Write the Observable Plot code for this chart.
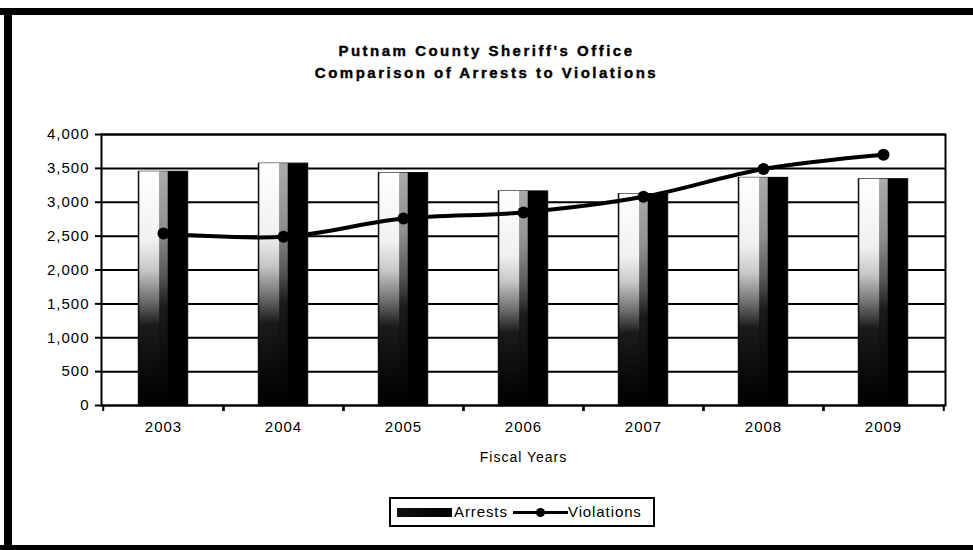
<!DOCTYPE html>
<html>
<head>
<meta charset="utf-8">
<script src="https://cdn.jsdelivr.net/npm/d3@7"></script>
<script src="https://cdn.jsdelivr.net/npm/@observablehq/plot@0.6"></script>
<style>
  html, body { margin: 0; padding: 0; background: #fff; }
  #wrap { position: relative; width: 973px; height: 550px; overflow: hidden; background: #fff; font-family: "Liberation Sans", Arial, sans-serif; }
  #chart { position: absolute; left: 0; top: 0; }
  .bd { position: absolute; background: #000; }
  #title { position: absolute; left: 0; width: 973px; top: 40px; text-align: center; font-weight: bold; font-size: 15px; letter-spacing: 2.5px; line-height: 22px; color: #000; -webkit-text-stroke: 0.4px #000; }
  #legend { position: absolute; left: 389px; top: 497px; width: 262px; height: 26px; border: 2px solid #000; box-sizing: content-box; font-size: 15px; letter-spacing: 0.9px; }
  #legend .sw1 { position: absolute; left: 6px; top: 9px; width: 55px; height: 9px; background: linear-gradient(90deg, #111 0%, #000 100%); }
  #legend .t1 { position: absolute; left: 63px; top: 4px; }
  #legend .sw2 { position: absolute; left: 122px; top: 12px; width: 55px; height: 3px; background: #000; }
  #legend .dot { position: absolute; left: 145px; top: 9px; width: 9px; height: 9px; border-radius: 50%; background: #000; }
  #legend .t2 { position: absolute; left: 177px; top: 4px; }
  #chart svg text { letter-spacing: 1px; }
</style>
</head>
<body>
<div id="wrap">
  <div id="chart"></div>
  <div class="bd" style="left:0;top:8px;width:973px;height:7px;"></div>
  <div class="bd" style="left:4px;top:8px;width:8px;height:542px;"></div>
  <div class="bd" style="left:0;top:545px;width:973px;height:5px;"></div>
  <div id="title">Putnam County Sheriff's Office<br>Comparison of Arrests to Violations</div>
  <div id="legend">
    <div class="sw1"></div><span class="t1">Arrests</span>
    <div class="sw2"></div><div class="dot"></div><span class="t2">Violations</span>
  </div>
</div>
<script>
const years = ["2003", "2004", "2005", "2006", "2007", "2008", "2009"];
const arrests = [3450, 3570, 3430, 3160, 3120, 3360, 3340];
const violations = [2540, 2490, 2760, 2850, 3080, 3490, 3700];
const yTicks = [0, 500, 1000, 1500, 2000, 2500, 3000, 3500, 4000];
const xLabel = "Fiscal Years";

const data = years.map((y, i) => ({year: y, arrests: arrests[i], violations: violations[i]}));

const W = 973, H = 550;
const mL = 101, mR = 28, mT = 134, mB = 145;
const bw = (W - mL - mR) / years.length;
const barW = 50;
const inset = (bw - barW) / 2;

const plot = Plot.plot({
  width: W,
  height: H,
  marginLeft: mL,
  marginRight: mR,
  marginTop: mT,
  marginBottom: mB,
  style: {background: "transparent", fontFamily: "'Liberation Sans', Arial, sans-serif", color: "#000"},
  x: {type: "band", domain: years, padding: 0},
  y: {domain: [0, 4000]},
  marks: [
    Plot.ruleY(yTicks, {stroke: "#000", strokeWidth: 2}),
    Plot.barY(data, {x: "year", y: "arrests", fill: "#000", stroke: "#000", strokeWidth: 1, insetLeft: inset, insetRight: inset}),
    Plot.barY(data, {x: "year", y: "arrests", fill: "url(#gradA)", insetLeft: inset + 1, insetRight: inset + 28}),
    Plot.barY(data, {x: "year", y: "arrests", fill: "url(#gradB)", insetLeft: inset + 21, insetRight: inset + 20}),
    Plot.frame({stroke: "#000", strokeWidth: 2}),
    Plot.line(data, {x: "year", y: "violations", stroke: "#000", strokeWidth: 4, curve: "catmull-rom"}),
    Plot.dot(data, {x: "year", y: "violations", r: 6, fill: "#000", stroke: "none"}),
    Plot.axisY({ticks: yTicks, tickFormat: d3.format(","), tickSize: 6, tickPadding: 6, fontSize: 15, strokeWidth: 2, label: null}),
    Plot.axisX({tickSize: 6, dx: -bw / 2, text: null, strokeWidth: 2, label: null}),
    Plot.axisX({tickSize: 6, dx: bw / 2, text: null, strokeWidth: 2, label: null}),
    Plot.axisX({tickSize: 0, tickPadding: 16, fontSize: 15, label: null}),
    Plot.text([xLabel], {frameAnchor: "bottom", dy: 56, fontSize: 14, text: d => d})
  ]
});

const svg = d3.select(plot);
const defs = svg.insert("defs", ":first-child");
const gA = defs.append("linearGradient").attr("id", "gradA").attr("x1", 0).attr("y1", 0).attr("x2", 0).attr("y2", 1);
[[0, "#ffffff"], [0.3, "#f0f0f0"], [0.42, "#c8c8c8"], [0.55, "#707070"], [0.66, "#1a1a1a"], [1, "#000"]]
  .forEach(([o, c]) => gA.append("stop").attr("offset", o).attr("stop-color", c));
const gB = defs.append("linearGradient").attr("id", "gradB").attr("x1", 0).attr("y1", 0).attr("x2", 0).attr("y2", 1);
[[0, "#aaaaaa"], [0.25, "#909090"], [0.45, "#555"], [0.58, "#1a1a1a"], [1, "#000"]]
  .forEach(([o, c]) => gB.append("stop").attr("offset", o).attr("stop-color", c));

document.getElementById("chart").appendChild(plot);
</script>
</body>
</html>
